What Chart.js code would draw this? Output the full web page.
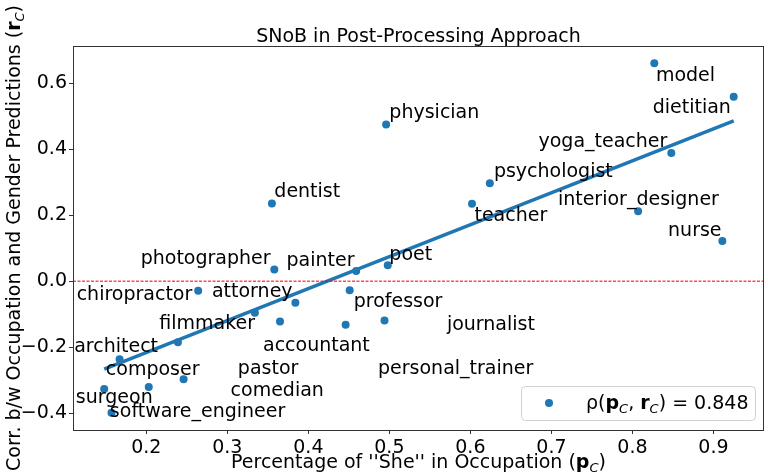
<!DOCTYPE html>
<html lang="en">
<head>
<meta charset="UTF-8">
<title>SNoB in Post-Processing Approach</title>
<script src="https://cdn.jsdelivr.net/npm/chart.js@4.4.0/dist/chart.umd.min.js"></script>
<style>
  html, body { margin: 0; padding: 0; background: #fff; }
  #wrap { width: 768px; height: 476px; position: relative; }
</style>
</head>
<body>
<div id="wrap"><canvas id="snobChart"></canvas></div>
<script>
// occupations and their values (x = share of "she", y = correlation)
const occupations = ['model', 'dietitian', 'physician', 'yoga_teacher', 'psychologist', 'teacher',
  'interior_designer', 'nurse', 'dentist', 'photographer', 'painter', 'poet', 'chiropractor',
  'attorney', 'professor', 'filmmaker', 'journalist', 'accountant', 'personal_trainer', 'pastor',
  'architect', 'comedian', 'composer', 'surgeon', 'software_engineer'];
const pctShe = [0.827, 0.925, 0.496, 0.848, 0.624, 0.602,
  0.807, 0.911, 0.355, 0.358, 0.459, 0.498, 0.264,
  0.384, 0.451, 0.334, 0.494, 0.365, 0.446, 0.239,
  0.167, 0.246, 0.203, 0.148, 0.157];
const corrGender = [0.661, 0.559, 0.475, 0.389, 0.297, 0.235,
  0.212, 0.122, 0.236, 0.036, 0.031, 0.049, -0.029,
  -0.065, -0.027, -0.095, -0.119, -0.122, -0.132, -0.185,
  -0.236, -0.297, -0.320, -0.326, -0.398];
// where each occupation name sits (data units, left/baseline of the text)
const labelX = [0.829, 0.825, 0.500, 0.684, 0.629, 0.605,
  0.708, 0.844, 0.358, 0.193, 0.373, 0.500, 0.114,
  0.281, 0.456, 0.216, 0.571, 0.344, 0.486, 0.313,
  0.111, 0.304, 0.150, 0.113, 0.155];
const labelY = [0.608, 0.509, 0.494, 0.408, 0.315, 0.183,
  0.231, 0.138, 0.255, 0.052, 0.047, 0.065, -0.057,
  -0.047, -0.079, -0.145, -0.148, -0.211, -0.281, -0.281,
  -0.213, -0.347, -0.284, -0.368, -0.410];
// fitted line ends
const fitX = [0.148, 0.925];
const fitY = [-0.266, 0.486];
const xTicks = [0.2, 0.3, 0.4, 0.5, 0.6, 0.7, 0.8, 0.9];
const yTicks = [-0.4, -0.2, 0.0, 0.2, 0.4, 0.6];
const xRange = [0.1095, 0.9624];
const yRange = [-0.4506, 0.713];
const rhoValue = '0.848';

const FONT = 'DejaVu Sans';
const BLUE = '#1f77b4';

function fmt(v) {
  const s = Math.abs(v).toFixed(1);
  return v < -1e-9 ? '\u2212' + s : s;
}

function richWidth(ctx, segs) {
  let w = 0;
  segs.forEach(s => { ctx.font = s.font; w += ctx.measureText(s.t).width; });
  return w;
}
function drawRich(ctx, segs, x, y) {
  segs.forEach(s => {
    ctx.font = s.font;
    ctx.fillText(s.t, x, y + (s.dy || 0));
    x += ctx.measureText(s.t).width;
  });
}

const norm = '19px "' + FONT + '"';
const bold = 'bold 19px "' + FONT + '"';
const sub = 'italic 13px "' + FONT + '"';

const decorations = {
  id: 'decorations',
  afterDatasetsDraw(chart) {
    const ctx = chart.ctx;
    const xs = chart.scales.x, ys = chart.scales.y;
    ctx.save();
    ctx.fillStyle = '#000';
    ctx.font = norm;
    ctx.textAlign = 'left';
    ctx.textBaseline = 'alphabetic';
    occupations.forEach((name, i) => {
      ctx.fillText(name, xs.getPixelForValue(labelX[i]), ys.getPixelForValue(labelY[i]));
    });
    ctx.restore();
  },
  afterDraw(chart) {
    const ctx = chart.ctx;
    const a = chart.chartArea;
    ctx.save();
    // axes frame
    ctx.strokeStyle = '#333';
    ctx.lineWidth = 1;
    ctx.strokeRect(a.left + 0.5, a.top + 0.5, a.right - a.left - 1, a.bottom - a.top);

    ctx.fillStyle = '#000';
    ctx.textBaseline = 'alphabetic';
    // title
    ctx.font = norm;
    ctx.textAlign = 'center';
    ctx.fillText('SNoB in Post-Processing Approach', (a.left + a.right) / 2, a.top - 4);

    ctx.textAlign = 'left';
    // x axis title
    const xSegs = [
      { t: "Percentage of ''She'' in Occupation (", font: norm },
      { t: 'p', font: bold },
      { t: 'C', font: sub, dy: 4 },
      { t: ')', font: norm }
    ];
    const xw = richWidth(ctx, xSegs);
    drawRich(ctx, xSegs, (a.left + a.right) / 2 - xw / 2, 468);

    // y axis title
    const ySegs = [
      { t: 'Corr. b/w Occupation and Gender Predictions (', font: norm },
      { t: 'r', font: bold },
      { t: 'C', font: sub, dy: 4 },
      { t: ')', font: norm }
    ];
    const yw = richWidth(ctx, ySegs);
    ctx.save();
    ctx.translate(19.5, (a.top + a.bottom) / 2);
    ctx.rotate(-Math.PI / 2);
    drawRich(ctx, ySegs, -yw / 2, 0);
    ctx.restore();

    // legend box
    const bx = a.right - 243, by = a.bottom - 44, bw = 234, bh = 34;
    ctx.beginPath();
    ctx.roundRect(bx + 0.5, by + 0.5, bw, bh, 4);
    ctx.fillStyle = 'rgba(255,255,255,0.8)';
    ctx.fill();
    ctx.strokeStyle = '#d0d0d0';
    ctx.stroke();
    ctx.beginPath();
    ctx.arc(bx + 28, by + 17, 4, 0, Math.PI * 2);
    ctx.fillStyle = BLUE;
    ctx.fill();
    ctx.fillStyle = '#000';
    drawRich(ctx, [
      { t: '\u03c1(', font: norm },
      { t: 'p', font: bold },
      { t: 'C', font: sub, dy: 4 },
      { t: ', ', font: norm },
      { t: 'r', font: bold },
      { t: 'C', font: sub, dy: 4 },
      { t: ') = ' + rhoValue, font: norm }
    ], bx + 65, by + 23);
    ctx.restore();
  }
};

Chart.defaults.font.family = FONT;
Chart.defaults.font.size = 19;
Chart.defaults.color = '#000';

new Chart(document.getElementById('snobChart'), {
  type: 'scatter',
  data: {
    datasets: [
      {
        type: 'line',
        data: [{ x: xRange[0], y: 0 }, { x: xRange[1], y: 0 }],
        borderColor: 'rgba(255,0,0,0.7)',
        borderWidth: 1.5,
        borderDash: [3, 1.5],
        pointRadius: 0,
        order: 0
      },
      {
        type: 'line',
        data: fitX.map((x, i) => ({ x: x, y: fitY[i] })),
        borderColor: BLUE,
        borderWidth: 3.5,
        pointRadius: 0,
        order: 1
      },
      {
        data: pctShe.map((x, i) => ({ x: x, y: corrGender[i] })),
        backgroundColor: BLUE,
        borderWidth: 0,
        pointRadius: 4,
        order: 2
      }
    ]
  },
  options: {
    responsive: true,
    maintainAspectRatio: false,
    animation: false,
    layout: { padding: { top: 46, right: 1, left: 0, bottom: 0 } },
    plugins: { legend: { display: false }, tooltip: { enabled: false } },
    scales: {
      x: {
        type: 'linear',
        min: xRange[0],
        max: xRange[1],
        afterBuildTicks: s => { s.ticks = xTicks.map(v => ({ value: v })); },
        afterFit: s => { s.height = 46; },
        border: { display: false },
        grid: { drawOnChartArea: false, drawTicks: true, tickLength: 4, color: '#333' },
        ticks: { callback: v => fmt(v), padding: 3, maxRotation: 0, autoSkip: false }
      },
      y: {
        type: 'linear',
        min: yRange[0],
        max: yRange[1],
        afterBuildTicks: s => { s.ticks = yTicks.map(v => ({ value: v })); },
        afterFit: s => { s.width = 73; },
        border: { display: false },
        grid: { drawOnChartArea: false, drawTicks: true, tickLength: 4, color: '#333' },
        ticks: { callback: v => fmt(v), padding: 2, autoSkip: false }
      }
    }
  },
  plugins: [decorations]
});
</script>
</body>
</html>
